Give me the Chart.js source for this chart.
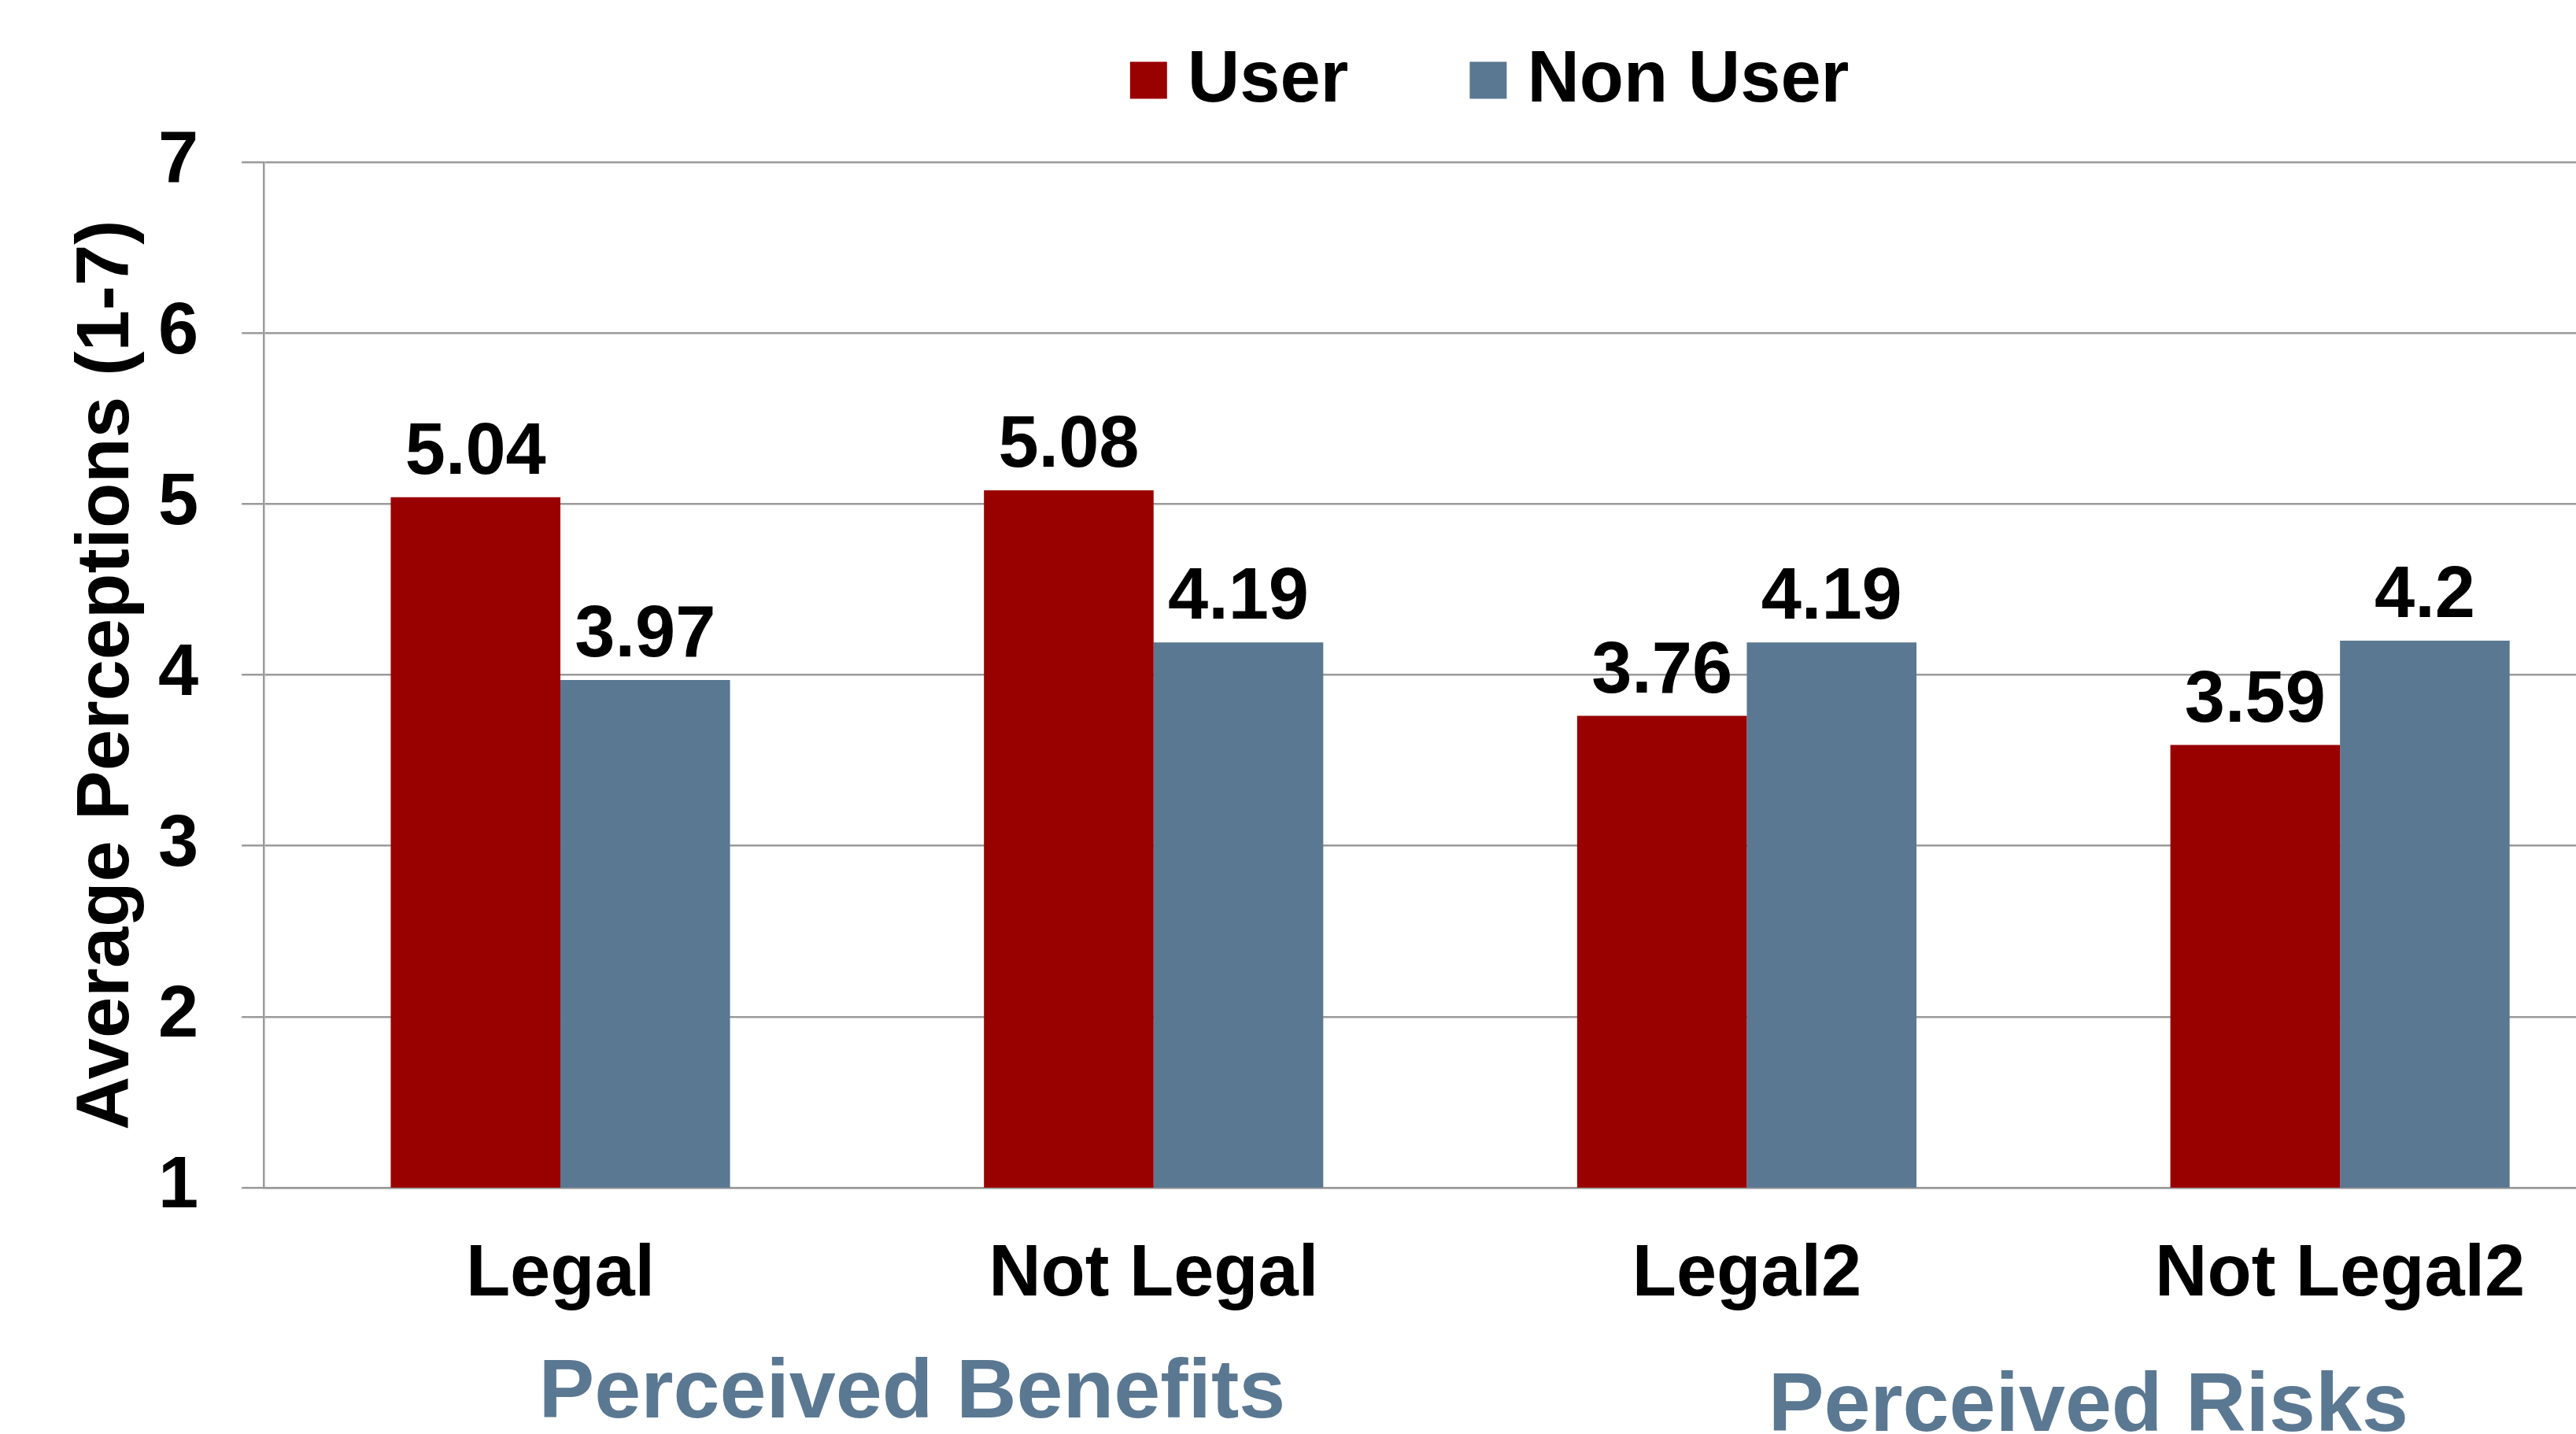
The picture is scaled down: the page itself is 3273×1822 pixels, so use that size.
<!DOCTYPE html>
<html>
<head>
<meta charset="utf-8">
<title>Average Perceptions</title>
<script src="https://cdn.jsdelivr.net/npm/chart.js@4.4.0/dist/chart.umd.min.js"></script>
<style>
  html, body { margin: 0; padding: 0; background: #fff; overflow: hidden; }
  #chart { display: block; }
</style>
</head>
<body>
<canvas id="chart" width="3350" height="1822"></canvas>
<script>
// Data
const categories = ['Legal', 'Not Legal', 'Legal2', 'Not Legal2'];
const seriesNames = ['User', 'Non User'];
const userValues = [5.04, 5.08, 3.76, 3.59];
const nonUserValues = [3.97, 4.19, 4.19, 4.2];
const yTicks = [1, 2, 3, 4, 5, 6, 7];
const groupNames = ['Perceived Benefits', 'Perceived Risks'];
const groupSpans = [[0, 1], [2, 3]];

const RED = '#990000';
const BLUE = '#5b7892';
const GRID = '#9a9a9a';
const FONT = "'Liberation Sans', Arial, Helvetica, sans-serif";

Chart.defaults.font.family = FONT;
Chart.defaults.font.weight = 'bold';
Chart.defaults.color = '#000';

// value labels above each bar
const valueLabels = {
    id: 'valueLabels',
    afterDatasetsDraw(chart) {
        const ctx = chart.ctx;
        ctx.save();
        ctx.font = 'bold 92px ' + FONT;
        ctx.fillStyle = '#000';
        ctx.textAlign = 'center';
        ctx.textBaseline = 'alphabetic';
        chart.data.datasets.forEach((ds, di) => {
            chart.getDatasetMeta(di).data.forEach((bar, i) => {
                ctx.fillText(String(ds.data[i]), bar.x, bar.y - 30);
            });
        });
        ctx.restore();
    }
};

// group captions under the category labels
const groupLabels = {
    id: 'groupLabels',
    afterDraw(chart) {
        const ctx = chart.ctx;
        const x = chart.scales.x;
        const shifts = [[70, 292], [57, 309]];
        ctx.save();
        ctx.font = 'bold 106px ' + FONT;
        ctx.fillStyle = BLUE;
        ctx.textAlign = 'center';
        ctx.textBaseline = 'alphabetic';
        groupNames.forEach((name, g) => {
            const [a, b] = groupSpans[g];
            const mid = (x.getPixelForValue(a) + x.getPixelForValue(b)) / 2;
            ctx.fillText(name, mid + shifts[g][0], chart.chartArea.bottom + shifts[g][1]);
        });
        ctx.restore();
    }
};

// legend: square + name, centred over the plot
const topLegend = {
    id: 'topLegend',
    afterDraw(chart) {
        const ctx = chart.ctx;
        const box = 47, gap = 26, itemGap = 154, midY = 104;
        ctx.save();
        ctx.font = 'bold 92px ' + FONT;
        ctx.textBaseline = 'middle';
        ctx.textAlign = 'left';
        const items = chart.data.datasets.map(ds => ({
            text: ds.label, color: ds.backgroundColor, w: ctx.measureText(ds.label).width
        }));
        let total = items.reduce((s, it) => s + box + gap + it.w, 0) + itemGap * (items.length - 1);
        let x = (chart.chartArea.left + chart.chartArea.right) / 2 + 50 - total / 2;
        items.forEach(it => {
            ctx.fillStyle = it.color;
            ctx.fillRect(x, midY - box / 2 - 2, box, box);
            ctx.fillStyle = '#000';
            ctx.fillText(it.text, x + box + gap, midY);
            x += box + gap + it.w + itemGap;
        });
        ctx.restore();
    }
};

new Chart(document.getElementById('chart'), {
    type: 'bar',
    data: {
        labels: categories,
        datasets: [{
            label: seriesNames[0],
            data: userValues,
            backgroundColor: RED,
            borderWidth: 0
        }, {
            label: seriesNames[1],
            data: nonUserValues,
            backgroundColor: BLUE,
            borderWidth: 0
        }]
    },
    options: {
        responsive: false,
        animation: false,
        devicePixelRatio: 1,
        categoryPercentage: 0.572,
        barPercentage: 1,
        layout: {
            // tick padding is reserved twice by the scale fit, so trim it here
            padding: { left: 80.8, top: 206, right: 0, bottom: 90.6 }
        },
        plugins: {
            legend: { display: false },
            tooltip: { enabled: false }
        },
        scales: {
            y: {
                min: 1,
                max: 7,
                afterBuildTicks: axis => { axis.ticks = yTicks.map(v => ({ value: v })); },
                grid: {
                    color: GRID,
                    lineWidth: 2.5,
                    drawTicks: true,
                    tickLength: 28,
                    tickColor: GRID
                },
                border: { display: true, color: GRID, width: 2.5 },
                ticks: {
                    padding: 55,
                    font: { size: 92, weight: 'bold' },
                    color: '#000'
                },
                title: {
                    display: true,
                    text: 'Average Perceptions (1-7)',
                    font: { size: 94, weight: 'bold' },
                    color: '#000',
                    padding: { top: 0, bottom: -47.6 }
                }
            },
            x: {
                grid: { display: false, drawTicks: false },
                border: { display: true, color: GRID, width: 2.5 },
                ticks: {
                    padding: 56,
                    font: { size: 92, weight: 'bold' },
                    color: '#000',
                    maxRotation: 0,
                    autoSkip: false
                }
            }
        }
    },
    plugins: [valueLabels, groupLabels, topLegend]
});
</script>
</body>
</html>
